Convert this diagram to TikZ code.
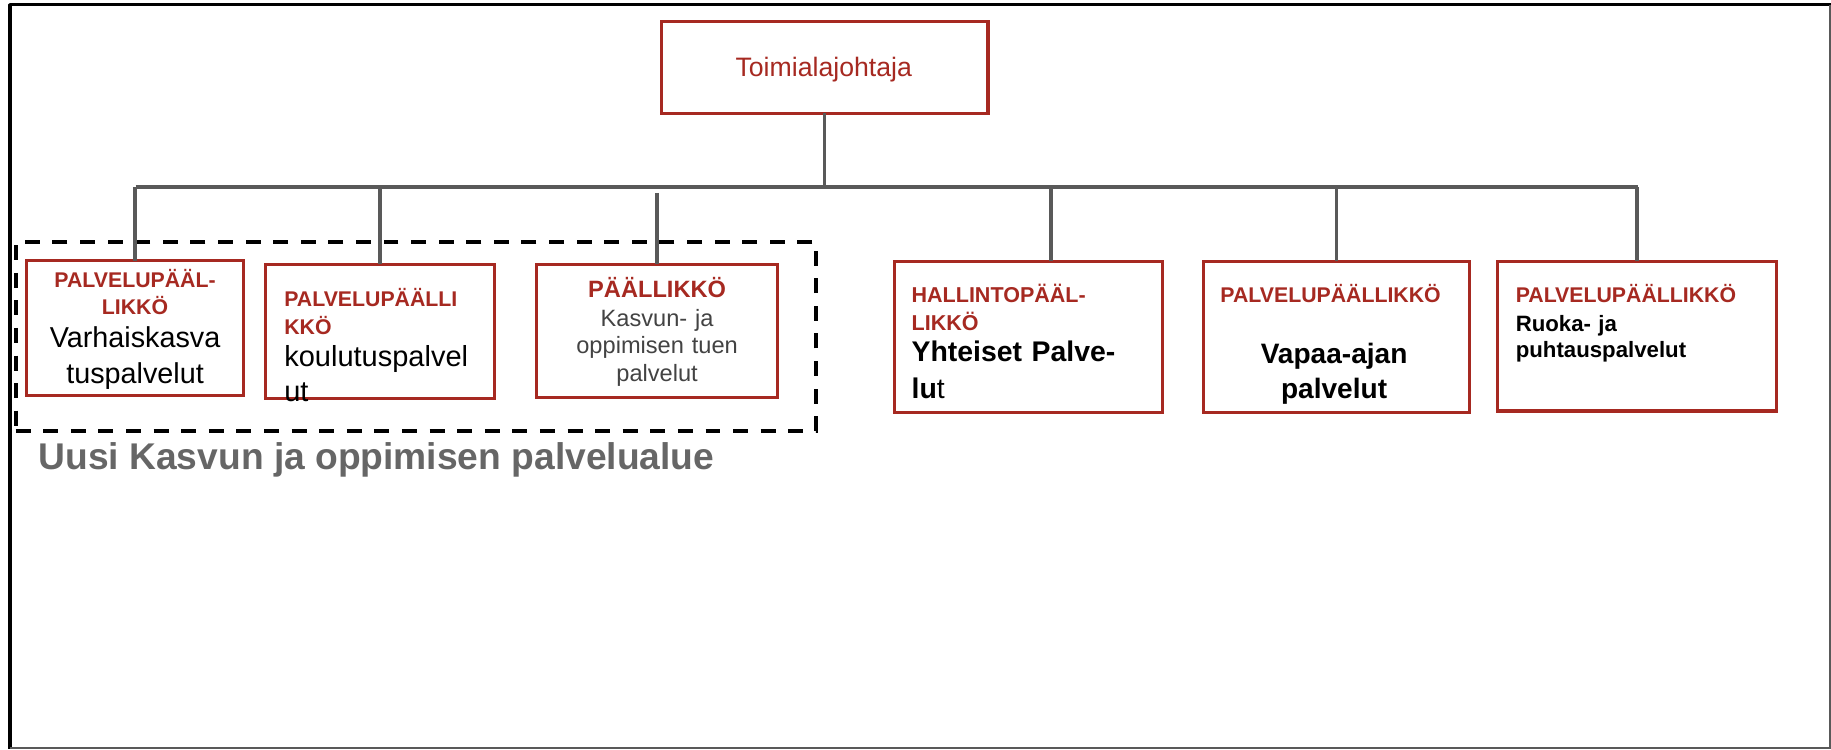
\documentclass[tikz,border=0pt]{standalone}
\usepackage{fontspec}
\setmainfont{Liberation Sans}
\definecolor{boxred}{RGB}{166,41,33}
\definecolor{conngray}{RGB}{89,89,89}
\definecolor{titlegray}{RGB}{102,102,102}
\definecolor{bodygray}{RGB}{67,67,67}
\begin{document}
\begin{tikzpicture}[x=0.5pt,y=-0.5pt,
  orgbox/.style={draw=boxred, line width=1.3pt, rectangle, inner sep=0pt, outer sep=0pt, anchor=north west, fill=white},
  conn/.style={draw=conngray, line width=1.5pt},
  bus/.style={draw=conngray, line width=2pt},
  txt/.style={inner sep=0pt, outer sep=0pt},
  redhead/.style={txt, text=boxred, font=\bfseries\fontsize{9.1}{11.8}\selectfont},
  bodyreg/.style={txt, text=black, font=\fontsize{12.3}{15.1}\selectfont},
  bodybold/.style={txt, text=black, font=\bfseries\fontsize{12.2}{15.4}\selectfont}
]
\useasboundingbox (0,0) rectangle (1566,641);
% frame
\draw[black, line width=1.35pt, line join=round] (1566,3.9) -- (8.6,3.9) -- (8.6,641);
\draw[conngray, line width=0.8pt] (1565.4,3.9) -- (1565.4,639.9) -- (8.6,639.9);

% dashed group
\node[draw=black, line width=1.7pt, dash pattern=on 6.4pt off 5.4pt, inner sep=0pt, outer sep=0pt,
      minimum width=342.3pt, minimum height=80.9pt, anchor=north west] (grp) at (13.4,206.7) {};
\node[txt, anchor=base west, text=titlegray, font=\bfseries\fontsize{15.9}{19}\selectfont] (grptitle) at (33,401.5) {Uusi Kasvun ja oppimisen palvelualue};

% boxes
\node[orgbox, minimum width=139.5pt, minimum height=39.25pt] (top) at (566,18.5) {};
\node[orgbox, minimum width=92.5pt, minimum height=57.5pt] (b1) at (23,223) {};
\node[orgbox, minimum width=98pt, minimum height=57.5pt] (b2) at (227,226) {};
\node[orgbox, minimum width=103pt, minimum height=56.8pt] (b3) at (459,226) {};
\node[orgbox, minimum width=114.5pt, minimum height=64.5pt] (b4) at (765,223.5) {};
\node[orgbox, minimum width=114pt, minimum height=64.5pt] (b5) at (1029,223.5) {};
\node[orgbox, minimum width=119pt, minimum height=64pt] (b6) at (1281,223.5) {};

% connectors
\coordinate (busT) at (705,160);
\coordinate (busL) at (116,160);
\coordinate (busR) at (1401,160);
\coordinate (d3) at (561.7,165);
\coordinate (d4) at (899,160);
\draw[conn] (top.south -| busT) -- (busT);
\draw[bus] (busL) -- (busR);
\draw[conn] (b1.north |- busL) -- (b1.north);
\draw[conn] (b2.north |- busL) -- (b2.north);
\draw[conn] (d3) -- (d3 |- b3.north);
\draw[conn] (d4) -- (d4 |- b4.north);
\draw[conn] (b5.north |- busL) -- (b5.north);
\draw[conn] (b6.north |- busL) -- (b6.north);

% texts
\node[txt, anchor=base, text=boxred, font=\fontsize{11.4}{13.7}\selectfont] (toptxt) at (704.5,65.6) {Toimialajohtaja};

\node[redhead, anchor=base, text width=90pt, align=center] (b1h) at (115.5,245.8) {PALVELUPÄÄL-\\LIKKÖ};
\node[bodyreg, anchor=base, text width=90pt, align=center, font=\fontsize{12.3}{15.25}\selectfont] (b1t) at (115.5,297.4) {Varhaiskasva\\tuspalvelut};

\node[redhead, anchor=base west, text width=95pt, align=left] (b2h) at (243.2,262.3) {PALVELUPÄÄLLI\\KKÖ};
\node[bodyreg, anchor=base west, text width=95pt, align=left, font=\fontsize{12.4}{15}\selectfont] (b2t) at (243.2,313.7) {koulutuspalvel\\ut};

\node[redhead, anchor=base, font=\bfseries\fontsize{10.1}{12}\selectfont] (b3h) at (562,254.6) {PÄÄLLIKKÖ};
\node[txt, anchor=base, text width=100pt, align=center, text=bodygray, font=\fontsize{10.1}{11.9}\selectfont] (b3t) at (562,278.9) {Kasvun- ja\\oppimisen tuen\\palvelut};

\node[redhead, anchor=base west, text width=110pt, align=left, font=\bfseries\fontsize{9.2}{12}\selectfont] (b4h) at (779.7,258.9) {HALLINTOPÄÄL-\\LIKKÖ};
\node[bodybold, anchor=base west, text width=110pt, align=left, font=\bfseries\fontsize{12.15}{15.9}\selectfont] (b4t) at (779.7,309) {Yhteiset Palve-\\lu\mdseries t};

\node[redhead, anchor=base] (b5h) at (1138,258.9) {PALVELUPÄÄLLIKKÖ};
\node[bodybold, anchor=base, text width=110pt, align=center, font=\bfseries\fontsize{12}{15}\selectfont] (b5t) at (1141,310.8) {Vapaa-ajan\\palvelut};

\node[redhead, anchor=base west] (b6h) at (1296.4,258.9) {PALVELUPÄÄLLIKKÖ};
\node[bodybold, anchor=base west, text width=110pt, align=left, font=\bfseries\fontsize{9.5}{11.25}\selectfont] (b6t) at (1296.4,283.2) {Ruoka- ja\\puhtauspalvelut};
\end{tikzpicture}
\end{document}
